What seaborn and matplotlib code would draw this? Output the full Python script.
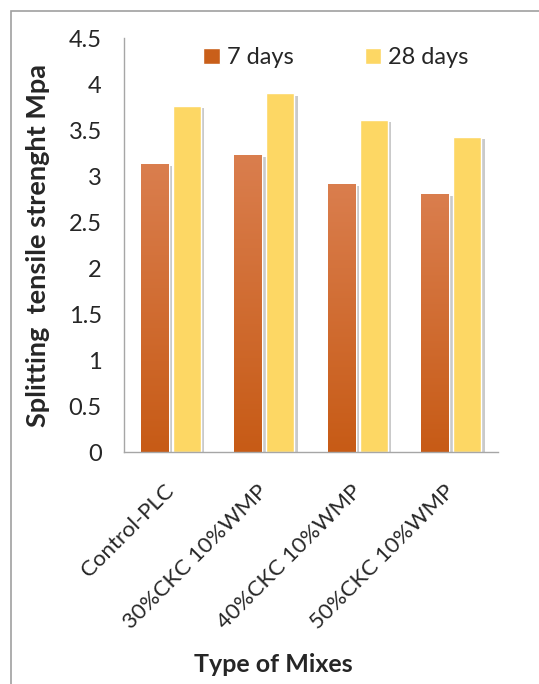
import numpy as np
import pandas as pd
import matplotlib
matplotlib.use("Agg")
import matplotlib.pyplot as plt
import matplotlib.patheffects as pe
from matplotlib.patches import Rectangle
import seaborn as sns

mixes = ["Control-PLC", "30%CKC 10%WMP", "40%CKC 10%WMP", "50%CKC 10%WMP"]
ages = ["7 days", "28 days"]
strength_7d = [3.13, 3.23, 2.92, 2.81]
strength_28d = [3.76, 3.90, 3.61, 3.43]
yticks = [0, 0.5, 1, 1.5, 2, 2.5, 3, 3.5, 4, 4.5]

df = pd.DataFrame({
    "Mix": mixes * 2,
    "Age": [ages[0]] * len(mixes) + [ages[1]] * len(mixes),
    "Strength": strength_7d + strength_28d,
})

sns.set_theme(style="white")
plt.rcParams["font.family"] = ["Lato", "DejaVu Sans"]

orange = "#C95F1A"
yellow = "#FDD764"

fig = plt.figure(figsize=(5.39, 6.84), dpi=100)
ax = fig.add_axes([0.230, 0.339, 0.694, 0.605])

sns.barplot(data=df, x="Mix", y="Strength", hue="Age", order=mixes,
            hue_order=ages, palette=[orange, yellow], width=0.68,
            gap=0.12, saturation=1, ax=ax, legend=True)

shadow = [pe.SimplePatchShadow(offset=(2.5, -1.5), shadow_rgbFace="#8A8A8A",
                               alpha=0.45), pe.Normal()]
for cont in ax.containers:
    for bar in cont:
        bar.set_path_effects(shadow)

# vertical gradient on the 7-day bars, lighter at the top
top_c = np.array([218, 126, 78]) / 255
bot_c = np.array([199, 91, 22]) / 255
t = np.linspace(0, 1, 256)[:, None]
grad = (bot_c[None, :] * (1 - t) + top_c[None, :] * t)[:, None, :]
for bar in ax.containers[0]:
    x0, y0 = bar.get_x(), bar.get_y()
    w, h = bar.get_width(), bar.get_height()
    im = ax.imshow(grad, extent=[x0, x0 + w, y0, y0 + h], origin="lower",
                   aspect="auto", zorder=bar.get_zorder() + 0.1)
    im.set_clip_path(bar)

ax.set_xlim(-0.5, len(mixes) - 0.5)
ax.set_ylim(0, 4.5)
ax.set_yticks(yticks)
ax.set_yticklabels([f"{v:g}" for v in yticks])
ax.tick_params(axis="y", length=0, pad=16, labelsize=17, labelcolor="#262626")
ax.tick_params(axis="x", length=0, pad=26, labelsize=16, labelcolor="#262626")
plt.setp(ax.get_xticklabels(), rotation=45, ha="right", va="center",
         rotation_mode="anchor")

for s in ["top", "right"]:
    ax.spines[s].set_visible(False)
for s in ["left", "bottom"]:
    ax.spines[s].set_color("#A6A6A6")
    ax.spines[s].set_linewidth(1.0)

ax.set_xlabel("Type of Mixes", fontsize=18, fontweight="bold")
ax.xaxis.set_label_coords(0.40, -0.485)
ax.set_ylabel("Splitting  tensile strenght Mpa", fontsize=19.5,
              fontweight="bold")
ax.yaxis.set_label_coords(-0.197, 0.50)

leg = ax.legend(loc="upper center", bbox_to_anchor=(0.567, 1.03), ncol=2,
                frameon=False, fontsize=17, handlelength=0.7,
                handleheight=0.7, handletextpad=0.3, columnspacing=3.0)
for txt in leg.get_texts():
    txt.set_color("#262626")

# outer chart frame
fig.add_artist(Rectangle((11 / 539, -0.05), 1.2, 1 - 11 / 684 + 0.05,
                         transform=fig.transFigure, fill=False,
                         edgecolor="#A0A0A0", linewidth=1.2))

fig.savefig("out.png", dpi=100)
